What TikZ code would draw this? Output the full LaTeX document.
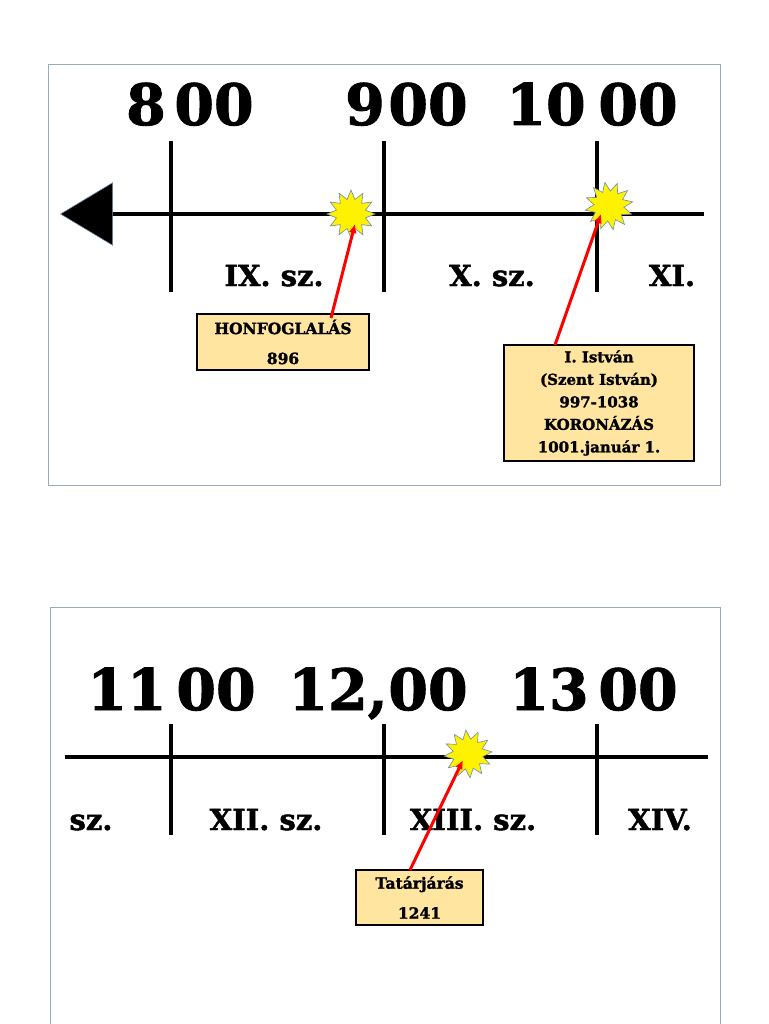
\documentclass[tikz,border=0pt]{standalone}
\usepackage{fontspec}
\setmainfont{DejaVu Serif}[BoldFeatures={FakeBold=1.6}]
\usetikzlibrary{shapes.geometric,arrows.meta}
\definecolor{framec}{RGB}{150,172,196}
\definecolor{boxfill}{RGB}{255,229,160}
\definecolor{starline}{RGB}{110,140,170}
\begin{document}
\begin{tikzpicture}[x=1pt,y=-1pt,
  frame/.style={draw=framec,line width=0.8pt},
  axis/.style={line width=4pt,black},
  tick/.style={line width=4pt,black},
  bignum/.style={font=\fontsize{57}{57}\selectfont\bfseries,inner sep=0pt,anchor=base},
  century/.style={font=\fontsize{29}{29}\selectfont\bfseries,inner sep=0pt,anchor=base},
  infobox/.style={draw=black,line width=1.2pt,fill=boxfill,inner sep=0pt,font=\fontsize{15.5}{30}\selectfont\bfseries,align=center},
  burst/.style={star,star points=12,star point ratio=1.6,minimum size=48pt,inner sep=0pt,fill=yellow,draw=starline,line width=0.6pt},
  pointer/.style={red,line width=3pt,-{Latex[length=9pt,width=8pt]}}]
\useasboundingbox (0,0) rectangle (768,1024);
% ---------- panel 1 ----------
\draw[frame] (48,64) rectangle (720,485);
\coordinate (a1s) at (108,214);
\coordinate (a1e) at (704,214);
\draw[axis] (a1s) -- (a1e);
\node[fill=black,draw=starline,line width=0.6pt,isosceles triangle,isosceles triangle apex angle=62,shape border rotate=180,minimum height=52pt,inner sep=0pt,anchor=apex] (arrowhead) at (60,214) {};
\foreach \x/\n in {171/t1,384/t2,597/t3}{
  \coordinate (\n a) at (\x,141); \coordinate (\n b) at (\x,292);
  \draw[tick] (\n a) -- (\n b);}
\node[bignum] (n8) at (146,125) {8};
\node[bignum] (n800) at (214,125) {00};
\node[bignum] (n9) at (365,125) {9};
\node[bignum] (n900) at (428,125) {00};
\node[bignum] (n10) at (546,125) {10};
\node[bignum] (n1000) at (638,125) {00};
\node[century] (c9) at (274,286) {IX. sz.};
\node[century] (c10) at (492,286) {X. sz.};
\node[century] (c11) at (672,286) {XI.};
\node[burst] (s1) at (351,214) {};
\node[burst,rotate=10] (s2) at (609,206) {};
\node[infobox,minimum width=172pt,minimum height=56pt] (b1) at (283,342) {HONFOGLALÁS\\896};
\node[infobox,minimum width=190pt,minimum height=116pt,font=\fontsize{15}{22.5}\selectfont\bfseries] (b2) at (599,403) {I. István\\(Szent István)\\997-1038\\KORONÁZÁS\\1001.január 1.};
\coordinate (p1s) at (331,318);
\coordinate (p1e) at (355,224);
\draw[pointer] (p1s) -- (p1e);
\coordinate (p2s) at (555,345);
\coordinate (p2e) at (601,214);
\draw[pointer] (p2s) -- (p2e);
% ---------- panel 2 ----------
\draw[frame] (50,1030) -- (50,607) -- (720,607) -- (720,1030);
\coordinate (a2s) at (65,757);
\coordinate (a2e) at (708,757);
\draw[axis] (a2s) -- (a2e);
\foreach \x/\n in {171/u1,384/u2,597/u3}{
  \coordinate (\n a) at (\x,724); \coordinate (\n b) at (\x,835);
  \draw[tick] (\n a) -- (\n b);}
\node[bignum] (n11) at (127,710) {11};
\node[bignum] (n1100) at (216,710) {00};
\node[bignum] (n12) at (338,710) {12,};
\node[bignum] (n1200) at (428,710) {00};
\node[bignum] (n13) at (549,710) {13};
\node[bignum] (n1300) at (638,710) {00};
\node[century] (d11) at (91,830) {sz.};
\node[century] (d12) at (266,830) {XII. sz.};
\node[century] (d13) at (473,830) {XIII. sz.};
\node[century] (d14) at (660,830) {XIV.};
\node[burst,rotate=5] (s3) at (468,754) {};
\node[infobox,minimum width=127pt,minimum height=55pt] (b3) at (419.5,897.5) {Tatárjárás\\1241};
\coordinate (p3s) at (410,870);
\coordinate (p3e) at (463,760);
\draw[pointer] (p3s) -- (p3e);
\end{tikzpicture}
\end{document}
